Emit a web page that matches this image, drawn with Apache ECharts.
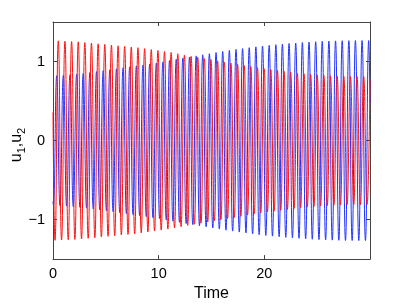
<!DOCTYPE html>
<html>
<head>
<meta charset="utf-8">
<script src="https://cdn.jsdelivr.net/npm/echarts@6/dist/echarts.min.js"></script>
<style>html,body{margin:0;padding:0;background:#fff}#c{width:409px;height:307px}</style>
</head>
<body>
<div id="c"></div>
<script>
// Extremum times (and end points)
const u1Time = [0, 0.19, 0.50, 0.81, 1.13, 1.44, 1.76, 2.07, 2.39, 2.70, 3.01, 3.33, 3.64, 3.96, 4.27, 4.58, 4.90, 5.21, 5.53, 5.84, 6.16, 6.47, 6.78, 7.10, 7.41, 7.73, 8.04, 8.35, 8.67, 8.98, 9.30, 9.61, 9.93, 10.24, 10.55, 10.87, 11.18, 11.50, 11.81, 12.12, 12.44, 12.75, 13.07, 13.38, 13.70, 14.01, 14.32, 14.64, 14.95, 15.27, 15.58, 15.89, 16.21, 16.52, 16.84, 17.15, 17.47, 17.78, 18.09, 18.41, 18.72, 19.04, 19.35, 19.66, 19.98, 20.29, 20.61, 20.92, 21.24, 21.55, 21.86, 22.18, 22.49, 22.81, 23.12, 23.43, 23.75, 24.06, 24.38, 24.69, 25.00, 25.32, 25.63, 25.95, 26.26, 26.58, 26.89, 27.20, 27.52, 27.83, 28.15, 28.46, 28.77, 29.09, 29.40, 29.72, 30];
const u1Value = [0.36, -1.262, 1.261, -1.259, 1.257, -1.255, 1.253, -1.251, 1.249, -1.245, 1.240, -1.237, 1.233, -1.229, 1.224, -1.220, 1.216, -1.212, 1.208, -1.204, 1.199, -1.195, 1.191, -1.188, 1.184, -1.180, 1.175, -1.169, 1.163, -1.157, 1.151, -1.145, 1.139, -1.133, 1.126, -1.120, 1.114, -1.106, 1.098, -1.090, 1.081, -1.073, 1.065, -1.059, 1.053, -1.045, 1.037, -1.031, 1.024, -1.016, 1.008, -1.002, 0.995, -0.988, 0.980, -0.973, 0.965, -0.958, 0.951, -0.944, 0.936, -0.929, 0.922, -0.916, 0.909, -0.904, 0.899, -0.894, 0.888, -0.883, 0.877, -0.872, 0.866, -0.861, 0.855, -0.851, 0.846, -0.842, 0.838, -0.835, 0.831, -0.828, 0.825, -0.823, 0.820, -0.818, 0.816, -0.815, 0.813, -0.812, 0.811, -0.811, 0.810, -0.810, 0.810, -0.810, 0.77];

const u2Time = [0, 0.04, 0.35, 0.66, 0.98, 1.29, 1.61, 1.92, 2.24, 2.55, 2.86, 3.18, 3.49, 3.81, 4.12, 4.43, 4.75, 5.06, 5.38, 5.69, 6.01, 6.32, 6.63, 6.95, 7.26, 7.58, 7.89, 8.20, 8.52, 8.83, 9.15, 9.46, 9.78, 10.09, 10.40, 10.72, 11.03, 11.35, 11.66, 11.97, 12.29, 12.60, 12.92, 13.23, 13.55, 13.86, 14.17, 14.49, 14.80, 15.12, 15.43, 15.74, 16.06, 16.37, 16.69, 17.00, 17.32, 17.63, 17.94, 18.26, 18.57, 18.89, 19.20, 19.51, 19.83, 20.14, 20.46, 20.77, 21.09, 21.40, 21.71, 22.03, 22.34, 22.66, 22.97, 23.28, 23.60, 23.91, 24.23, 24.54, 24.86, 25.17, 25.48, 25.80, 26.11, 26.43, 26.74, 27.05, 27.37, 27.68, 28.00, 28.31, 28.62, 28.94, 29.25, 29.57, 29.88, 30];
const u2Value = [-0.77, -0.818, 0.820, -0.823, 0.826, -0.829, 0.832, -0.836, 0.840, -0.845, 0.850, -0.855, 0.860, -0.866, 0.872, -0.878, 0.884, -0.890, 0.896, -0.902, 0.908, -0.914, 0.920, -0.926, 0.932, -0.938, 0.944, -0.950, 0.956, -0.962, 0.968, -0.975, 0.981, -0.988, 0.995, -1.004, 1.012, -1.020, 1.027, -1.035, 1.042, -1.050, 1.057, -1.064, 1.071, -1.078, 1.085, -1.092, 1.099, -1.106, 1.113, -1.120, 1.127, -1.134, 1.140, -1.146, 1.152, -1.158, 1.163, -1.169, 1.175, -1.181, 1.186, -1.191, 1.196, -1.201, 1.205, -1.209, 1.213, -1.217, 1.221, -1.225, 1.228, -1.231, 1.234, -1.237, 1.240, -1.243, 1.246, -1.249, 1.251, -1.253, 1.255, -1.257, 1.258, -1.260, 1.261, -1.262, 1.263, -1.264, 1.264, -1.265, 1.265, -1.265, 1.265, -1.265, 1.265, 0.47];

const xTicks = [0, 10, 20];
const yTicks = [-1, 0, 1];
const xLabel = 'Time';

const zip = (t, v) => t.map((x, i) => [x, v[i]]);
const FONT = 'Liberation Sans, Arial, Helvetica, sans-serif';
const axisColor = '#444';

const chart = echarts.init(document.getElementById('c'), null, {renderer: 'canvas'});
const baseX = {
  type: 'value', min: 0, max: 30,
  axisLine: {show: true, onZero: false, lineStyle: {color: axisColor, width: 1}},
  axisTick: {show: true, inside: true, length: 4, customValues: xTicks, lineStyle: {color: axisColor}},
  splitLine: {show: false}
};
const baseY = {
  type: 'value', min: -1.5, max: 1.5,
  axisLine: {show: true, onZero: false, lineStyle: {color: axisColor, width: 1}},
  axisTick: {show: true, inside: true, length: 4, customValues: yTicks, lineStyle: {color: axisColor}},
  splitLine: {show: false}
};
chart.setOption({
  animation: false,
  backgroundColor: '#fff',
  grid: {left: 53, top: 22, width: 317, height: 245, containLabel: false},
  xAxis: [
    Object.assign({}, baseX, {
      position: 'bottom',
      name: xLabel, nameLocation: 'middle', nameGap: 20,
      nameTextStyle: {fontFamily: FONT, fontSize: 16, color: '#000'},
      axisLabel: {show: true, customValues: xTicks, margin: 7, fontFamily: FONT, fontSize: 14.5, color: '#000'}
    }),
    Object.assign({}, baseX, {position: 'top', axisLabel: {show: false}})
  ],
  yAxis: [
    Object.assign({}, baseY, {
      position: 'left',
      axisLabel: {show: true, customValues: yTicks, margin: 8, fontFamily: FONT, fontSize: 14.5, color: '#000',
        formatter: v => String(v).replace('-', '\u2212')}
    }),
    Object.assign({}, baseY, {position: 'right', axisLabel: {show: false}})
  ],
  graphic: [{
    type: 'group', x: 16.5, y: 145, rotation: Math.PI / 2,
    children: [
      {type: 'text', x: -17.2, y: 0, style: {text: 'u', fontFamily: FONT, fontSize: 16, fill: '#000', align: 'left', verticalAlign: 'middle'}},
      {type: 'text', x: -8.3, y: 5.5, style: {text: '1', fontFamily: FONT, fontSize: 11, fill: '#000', align: 'left', verticalAlign: 'middle'}},
      {type: 'text', x: -2.2, y: 0, style: {text: ',', fontFamily: FONT, fontSize: 16, fill: '#000', align: 'left', verticalAlign: 'middle'}},
      {type: 'text', x: 2.2, y: 0, style: {text: 'u', fontFamily: FONT, fontSize: 16, fill: '#000', align: 'left', verticalAlign: 'middle'}},
      {type: 'text', x: 11.1, y: 5.5, style: {text: '2', fontFamily: FONT, fontSize: 11, fill: '#000', align: 'left', verticalAlign: 'middle'}}
    ]
  }],
  series: [
    {type: 'line', name: 'u2', data: zip(u2Time, u2Value), showSymbol: false, symbol: 'none', smooth: 0.5,
      lineStyle: {color: '#2233ff', width: 1}, sampling: null, silent: true, clip: true},
    {type: 'line', name: 'u1', data: zip(u1Time, u1Value), showSymbol: false, symbol: 'none', smooth: 0.5,
      lineStyle: {color: '#ff1111', width: 1}, sampling: null, silent: true, clip: true}
  ]
});
</script>
</body>
</html>
